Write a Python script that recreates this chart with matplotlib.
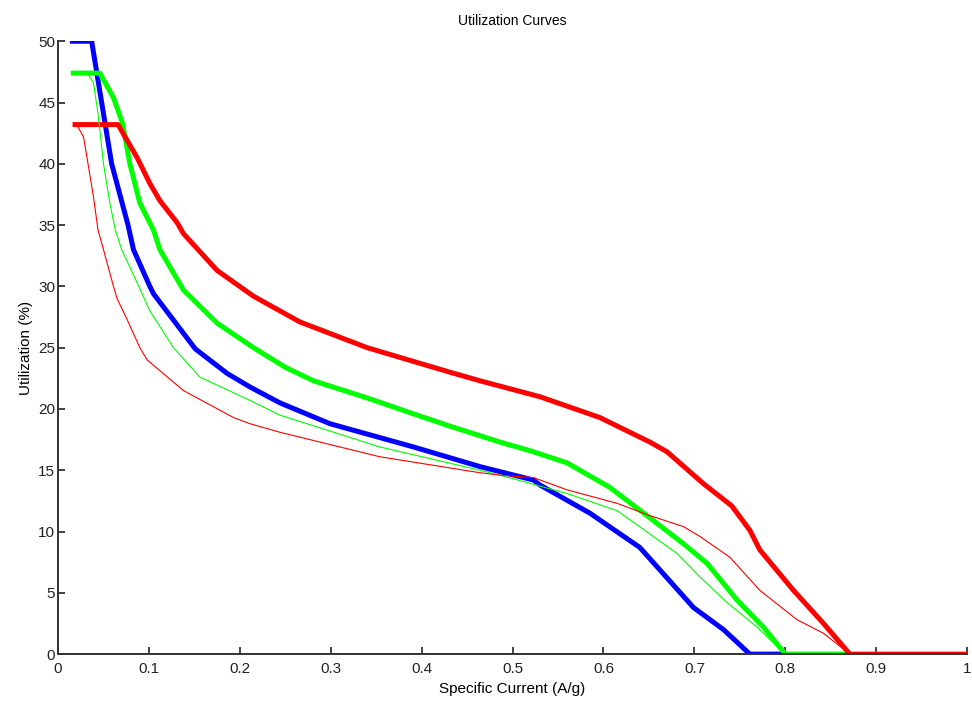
import matplotlib
matplotlib.use("Agg")
import matplotlib.pyplot as plt
import numpy as np

# thick curves
blue_x = [0.013, 0.037, 0.048, 0.059, 0.077, 0.083, 0.101, 0.105, 0.151, 0.186,
          0.211, 0.244, 0.299, 0.391, 0.464, 0.523, 0.530, 0.585, 0.640, 0.699,
          0.732, 0.761, 0.800]
blue_y = [50, 50, 45, 40, 35, 33, 30, 29.4, 24.9, 22.9,
          21.8, 20.5, 18.8, 16.9, 15.3, 14.2, 13.8, 11.5, 8.7, 3.8,
          2.0, 0, 0]

green_x = [0.014, 0.046, 0.061, 0.071, 0.079, 0.090, 0.105, 0.112, 0.138, 0.175,
           0.215, 0.250, 0.281, 0.340, 0.391, 0.431, 0.486, 0.519, 0.560, 0.607,
           0.646, 0.688, 0.714, 0.747, 0.776, 0.800, 0.871]
green_y = [47.4, 47.4, 45.4, 43.3, 40.0, 36.8, 34.6, 33.0, 29.7, 27.0,
           25.0, 23.4, 22.3, 20.9, 19.6, 18.6, 17.3, 16.6, 15.6, 13.6,
           11.4, 9.0, 7.4, 4.4, 2.2, 0, 0]

red_x = [0.016, 0.066, 0.087, 0.101, 0.112, 0.131, 0.138, 0.175, 0.215, 0.266,
         0.340, 0.431, 0.464, 0.530, 0.596, 0.651, 0.670, 0.710, 0.741, 0.761,
         0.772, 0.809, 0.842, 0.871, 1.0]
red_y = [43.2, 43.2, 40.5, 38.4, 37.0, 35.2, 34.3, 31.3, 29.2, 27.1,
         25.0, 23.0, 22.3, 21.0, 19.3, 17.3, 16.5, 13.9, 12.1, 10.1,
         8.5, 5.2, 2.5, 0, 0]

# thin curves
green_thin_x = [0.033, 0.039, 0.044, 0.050, 0.057, 0.063, 0.070, 0.087, 0.101, 0.127,
                0.156, 0.211, 0.244, 0.354, 0.464, 0.486, 0.560, 0.615, 0.651,
                0.681, 0.706, 0.736, 0.769, 0.800]
green_thin_y = [47.3, 46.6, 44.1, 40.0, 36.8, 34.6, 33.0, 30.3, 28.0, 25.0,
                22.6, 20.7, 19.5, 16.9, 15.0, 14.6, 13.1, 11.7, 9.8,
                8.2, 6.3, 4.2, 2.2, 0]

red_thin_x = [0.022, 0.028, 0.033, 0.039, 0.044, 0.050, 0.061, 0.065, 0.076, 0.090,
              0.098, 0.138, 0.193, 0.211, 0.244, 0.354, 0.464, 0.486, 0.523, 0.560,
              0.615, 0.651, 0.688, 0.706, 0.739, 0.772, 0.813, 0.842, 0.871]
red_thin_y = [43.0, 42.2, 40.0, 37.3, 34.6, 33.0, 30.0, 29.0, 27.3, 25.0,
              24.0, 21.5, 19.3, 18.8, 18.1, 16.1, 14.8, 14.6, 14.4, 13.4,
              12.3, 11.3, 10.4, 9.6, 7.9, 5.2, 2.8, 1.7, 0]

x_ticks = [0, 0.1, 0.2, 0.3, 0.4, 0.5, 0.6, 0.7, 0.8, 0.9, 1]
x_labels = ["0", "0.1", "0.2", "0.3", "0.4", "0.5", "0.6", "0.7", "0.8", "0.9", "1"]
y_ticks = [0, 5, 10, 15, 20, 25, 30, 35, 40, 45, 50]

plt.rcParams["font.family"] = ["Liberation Sans", "DejaVu Sans"]

fig = plt.figure(figsize=(9.72, 7.11), dpi=100)
ax = fig.add_axes([0.0597, 0.080, 0.9353, 0.862])

ax.plot(blue_x, blue_y, color="#0000ff", lw=3.6, solid_capstyle="butt")
ax.plot(green_x, green_y, color="#00ff00", lw=3.6, solid_capstyle="butt")
ax.plot(red_x, red_y, color="#ff0000", lw=3.6, solid_capstyle="butt")
ax.plot(green_thin_x, green_thin_y, color="#00ff00", lw=0.8)
ax.plot(red_thin_x, red_thin_y, color="#ff0000", lw=0.8)

ax.set_xlim(0, 1)
ax.set_ylim(0, 50)
ax.set_xticks(x_ticks)
ax.set_xticklabels(x_labels)
ax.set_yticks(y_ticks)
ax.tick_params(direction="in", length=5, width=1.2, labelsize=11, colors="#222222")
ax.tick_params(axis="x", pad=6)
ax.tick_params(axis="y", pad=2)

for s in ["top", "right"]:
    ax.spines[s].set_visible(False)
for s in ["left", "bottom"]:
    ax.spines[s].set_linewidth(1.4)
    ax.spines[s].set_color("#333333")

ax.set_title("Utilization Curves", fontsize=10, pad=12)
ax.set_xlabel("Specific Current (A/g)", fontsize=11, labelpad=4)
ax.set_ylabel("Utilization (%)", fontsize=11, labelpad=4)

fig.savefig("out.png", dpi=100)
